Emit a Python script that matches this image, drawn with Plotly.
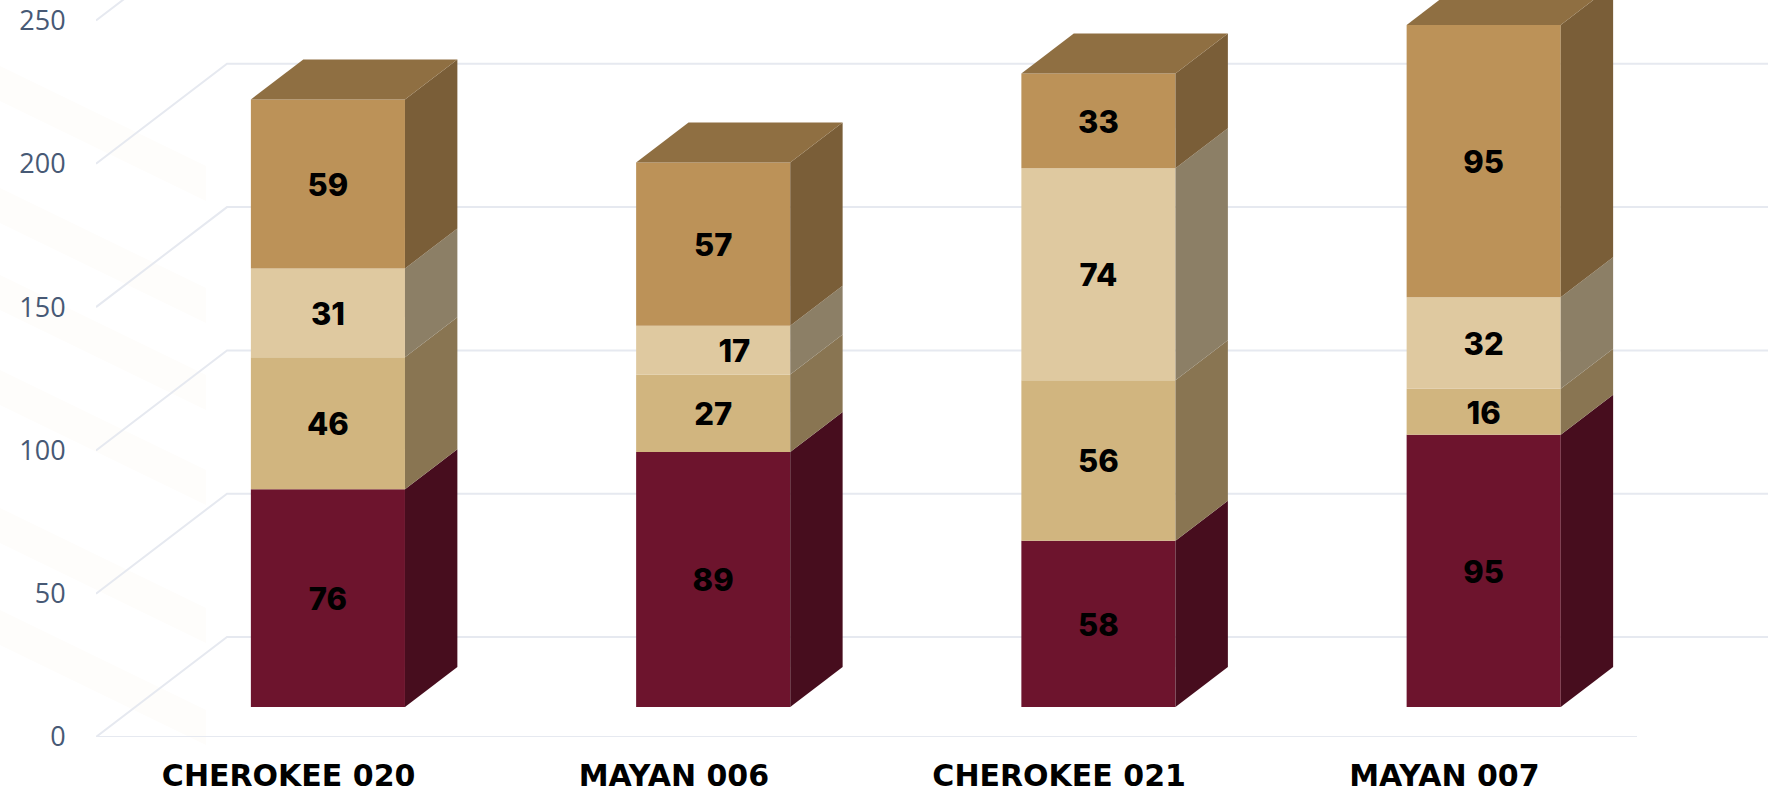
import plotly.graph_objects as go

categories = ["CHEROKEE 020", "MAYAN 006", "CHEROKEE 021", "MAYAN 007"]
series_a = [76, 89, 58, 95]
series_b = [46, 27, 56, 16]
series_c = [31, 17, 74, 32]
series_d = [59, 57, 33, 95]
y_ticks = [0, 50, 100, 150, 200, 250]

W, H = 1780, 794
L, B = 96, 57
PX_PER_UNIT = 2.866
PX_PER_CAT = 385.25
GX = 131 / PX_PER_CAT      # total wall depth, x (category units)
GY = 100 / PX_PER_UNIT     # total wall depth, y (value units)
BAR_W = 0.4
D_FRONT, D_BACK = 0.3, 0.7
LABEL_DROP = 4 / PX_PER_UNIT

stack = [
    (series_a, "#6D142D", "#470D1E", "#470D1E"),
    (series_b, "#D1B57F", "#897552", "#897552"),
    (series_c, "#DFC9A0", "#8C7F66", "#8C7F66"),
    (series_d, "#BC9258", "#7A5E38", "#8F6F42"),
]
label_dx = {(2, 1): 0.055}


def proj(i, u, v, depth):
    return i + 0.5 - BAR_W / 2 + u * BAR_W + depth * GX, v + depth * GY


fig = go.Figure()

# front faces
bottoms = [0, 0, 0, 0]
base_shift = D_FRONT * GY
for values, front, side, top in stack:
    fig.add_trace(go.Bar(
        x=[i + 0.5 + D_FRONT * GX for i in range(4)],
        y=values,
        base=[b + base_shift for b in bottoms],
        width=BAR_W,
        marker=dict(color=front, line=dict(width=0)),
        hoverinfo="skip",
    ))
    bottoms = [b + v for b, v in zip(bottoms, values)]

# side and top faces, labels
bottoms = [0, 0, 0, 0]
lab_x, lab_y, lab_t = [], [], []
for s, (values, front, side, top) in enumerate(stack):
    for i, val in enumerate(values):
        b, t = bottoms[i], bottoms[i] + val
        pts = [proj(i, 1, b, D_FRONT), proj(i, 1, b, D_BACK),
               proj(i, 1, t, D_BACK), proj(i, 1, t, D_FRONT)]
        fig.add_trace(go.Scatter(
            x=[p[0] for p in pts] + [pts[0][0]], y=[p[1] for p in pts] + [pts[0][1]],
            mode="lines", fill="toself", fillcolor=side, line=dict(width=0),
            hoverinfo="skip"))
        if s == len(stack) - 1:
            pts = [proj(i, 0, t, D_FRONT), proj(i, 1, t, D_FRONT),
                   proj(i, 1, t, D_BACK), proj(i, 0, t, D_BACK)]
            fig.add_trace(go.Scatter(
                x=[p[0] for p in pts] + [pts[0][0]], y=[p[1] for p in pts] + [pts[0][1]],
                mode="lines", fill="toself", fillcolor=top, line=dict(width=0),
                hoverinfo="skip"))
        cx, cy = proj(i, 0.5, (b + t) / 2, D_FRONT)
        lab_x.append(cx + label_dx.get((s, i), 0))
        lab_y.append(cy - LABEL_DROP)
        lab_t.append(str(val))
    bottoms = [b + v for b, v in zip(bottoms, values)]

fig.add_trace(go.Scatter(
    x=lab_x, y=lab_y, text=lab_t, mode="text",
    textposition="middle center",
    textfont=dict(family="Inter", size=31, color="#000000", weight=800),
    hoverinfo="skip"))

# grid on the floor and back wall
GRID = "#E6E9F0"
shapes = []
# faint decorative background stripes
for y0 in [66, 188, 275, 370, 508, 610]:
    x_a, x_b = -L / (W - L), 110 / (W - L)
    top_a, top_b = 1 - y0 / (H - B), 1 - (y0 + 100) / (H - B)
    thick = 35 / (H - B)
    shapes.append(dict(type="path", xref="paper", yref="paper", layer="below",
                       path=f"M {x_a} {top_a} L {x_b} {top_b} L {x_b} {top_b - thick} L {x_a} {top_a - thick} Z",
                       fillcolor="#FEFDFB", line=dict(width=0)))
for v in y_ticks:
    shapes.append(dict(type="path", xref="x", yref="y", layer="below",
                       path=f"M 0 {v} L {GX} {v + GY} L {4 + GX} {v + GY}",
                       line=dict(color=GRID, width=2)))
shapes.append(dict(type="line", xref="x", yref="y", layer="below",
                   x0=0, x1=4, y0=0, y1=0, line=dict(color=GRID, width=2)))

fig.update_layout(
    width=W, height=H, autosize=False, showlegend=False, barmode="overlay",
    paper_bgcolor="#FFFFFF", plot_bgcolor="rgba(0,0,0,0)",
    margin=dict(l=L, r=0, t=0, b=B, pad=0),
    shapes=shapes,
    xaxis=dict(range=[0, (W - L) / PX_PER_CAT], tickmode="array", automargin=False,
               tickvals=[i + 0.5 for i in range(4)], ticktext=categories,
               showgrid=False, zeroline=False, showline=False,
               ticks="outside", ticklen=12, tickcolor="rgba(0,0,0,0)",
               tickfont=dict(family="DejaVu Sans", size=30, color="#000000", weight=700)),
    yaxis=dict(range=[0, (H - B) / PX_PER_UNIT], tickmode="array", tickvals=y_ticks, automargin=False,
               showgrid=False, zeroline=False, showline=False,
               ticks="outside", ticklen=24, tickcolor="rgba(0,0,0,0)",
               tickfont=dict(family="Open Sans", size=27, color="#475975")),
)
fig.write_html("out.html", config={"displayModeBar": False},
               post_script="document.body.style.margin='0';document.documentElement.style.overflow='hidden';")
